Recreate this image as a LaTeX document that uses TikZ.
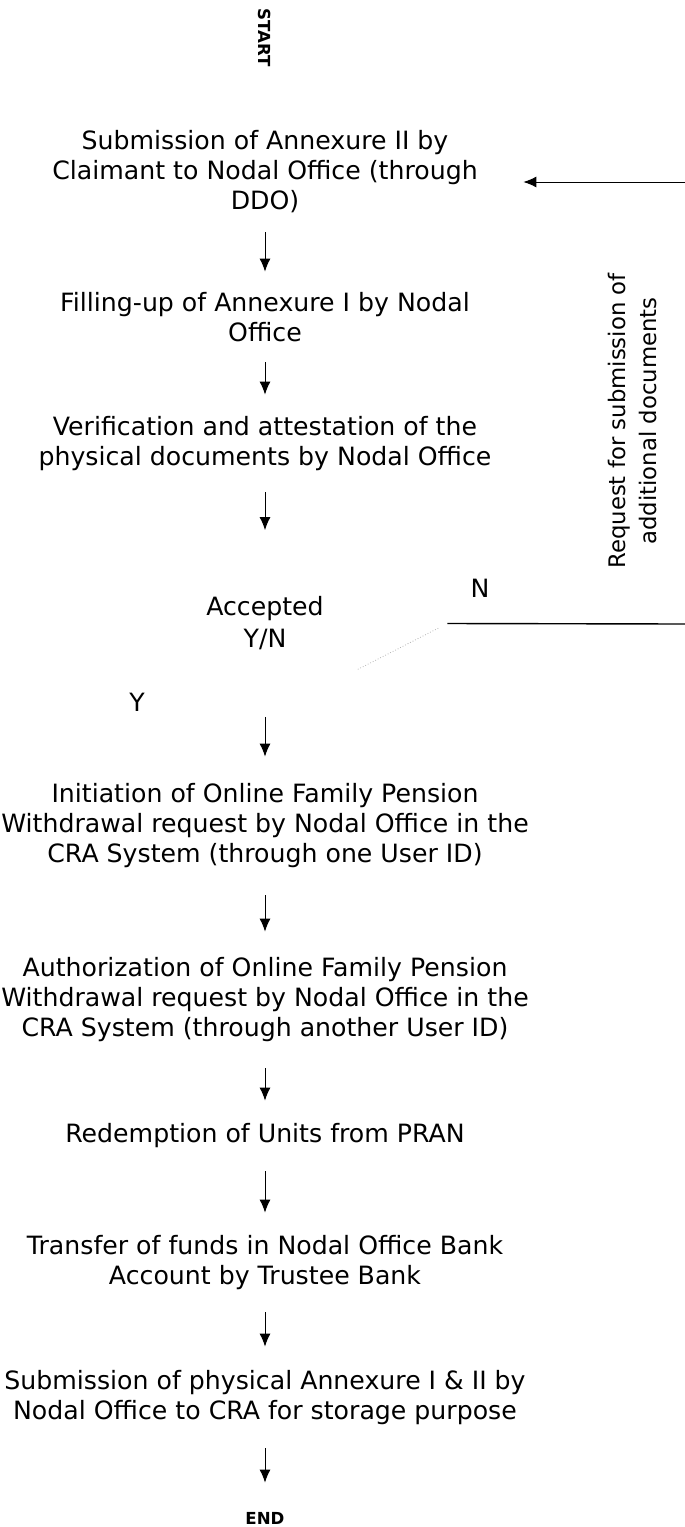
\documentclass[tikz,border=0pt]{standalone}
\usepackage{fontspec}
\setmainfont{DejaVu Sans}
\usepackage{tikz}
\usepackage{xcolor}
\usetikzlibrary{shapes.geometric,arrows.meta,calc}

\begin{document}
\begin{tikzpicture}[x=0.5pt,y=-0.5pt,
		stepbox/.style={align=center,inner sep=0pt,minimum width=258pt,font=\fontsize{12.6}{15}\selectfont},
		decision/.style={diamond,aspect=1.96,inner sep=0pt,minimum width=182pt,minimum height=93pt,align=center,font=\fontsize{12.6}{16}\selectfont},
		term/.style={inner sep=0pt,font=\bfseries\fontsize{8.3}{10}\selectfont},
		lbl/.style={inner sep=0pt,font=\fontsize{12.6}{15}\selectfont},
		flow/.style={-{Latex[length=6.5pt,width=5.5pt]},line width=0.5pt}]
	\useasboundingbox (0,0) rectangle (685,1527);
	% steps
	\node[term,rotate=-90] (start) at (265,38) {START};
	\node[stepbox,minimum height=60pt] (sub) at (265,172)
	{Submission of Annexure II by\\Claimant to Nodal Office (through\\DDO)};
	\node[stepbox,minimum height=45pt] (fill) at (265,317)
	{Filling-up of Annexure I by Nodal\\Office};
	\node[stepbox,minimum height=48.5pt] (verif) at (265,443.5)
	{Verification and attestation of the\\physical documents by Nodal Office};
	\node[decision] (acc) at (265,623.5) {Accepted\\Y/N};
	\node[stepbox,minimum height=69pt] (init) at (265,826)
	{Initiation of Online Family Pension\\Withdrawal request by Nodal Office in the\\CRA System (through one User ID)};
	\node[stepbox,minimum height=68pt] (auth) at (265,1000)
	{Authorization of Online Family Pension\\Withdrawal request by Nodal Office in the\\CRA System (through another User ID)};
	\node[stepbox,minimum height=35pt] (redeem) at (265,1136)
	{Redemption of Units from PRAN};
	\node[stepbox,minimum height=49.5pt] (transfer) at (265,1262.5)
	{Transfer of funds in Nodal Office Bank\\Account by Trustee Bank};
	\node[stepbox,minimum height=50.5pt] (store) at (265,1397.5)
	{Submission of physical Annexure I \& II by\\Nodal Office to CRA for storage purpose};
	\node[term,minimum height=35pt] (end) at (265,1518) {END};
	% labels
	\node[lbl] (yes) at (137,702) {Y};
	\node[lbl] (no) at (480,588) {N};
	\node[rotate=90,align=center,inner sep=0pt,font=\fontsize{11.4}{15.5}\selectfont] (req) at (632,421)
	{Request for submission of\\additional documents};
	% arrows
	\draw[flow] (sub) -- (fill);
	\draw[flow] (fill) -- (verif);
	\draw[flow] (verif) -- (acc);
	\draw[flow] (acc) -- (init);
	\draw[flow] (init) -- (auth);
	\draw[flow] (auth) -- (redeem);
	\draw[flow] (redeem) -- (transfer);
	\draw[flow] (transfer) -- (store);
	\draw[flow] (store) -- (end);
	% back to the start
	\coordinate (loopA) at (687,624);
	\coordinate (loopB) at (687,182);
	\draw[line width=0.7pt] (acc.east) -- (loopA) -- (loopB);
	\draw[flow] (loopB) -- (sub.east |- loopB);
	\draw[gray!60,densely dotted,line width=0.4pt] ($(acc.east)!0.05!(acc.south)$) -- ($(acc.east)!0.5!(acc.south)$);
\end{tikzpicture}
\end{document}
